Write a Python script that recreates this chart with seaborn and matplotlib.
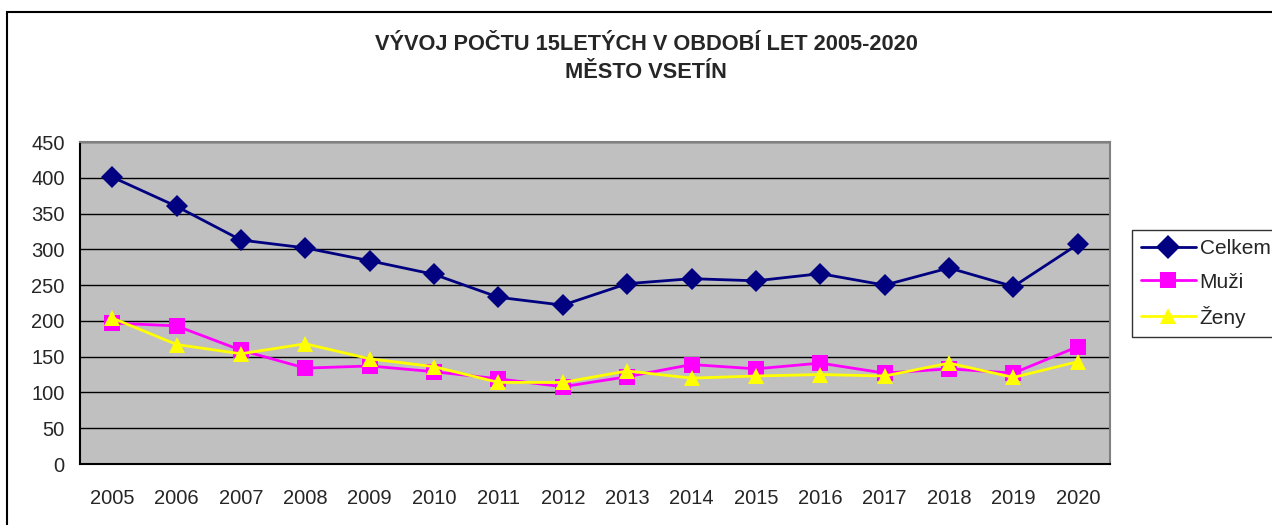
import matplotlib
matplotlib.use("Agg")
import matplotlib.pyplot as plt
from matplotlib.patches import Rectangle
from matplotlib.ticker import FixedLocator, NullFormatter
import seaborn as sns
import pandas as pd

years = ["2005", "2006", "2007", "2008", "2009", "2010", "2011", "2012",
         "2013", "2014", "2015", "2016", "2017", "2018", "2019", "2020"]
celkem = [401, 360, 313, 302, 284, 265, 233, 222, 252, 259, 256, 266, 250, 274, 248, 307]
muzi = [197, 193, 159, 134, 137, 129, 119, 108, 122, 139, 133, 141, 127, 133, 127, 164]
zeny = [204, 167, 154, 168, 147, 136, 114, 114, 130, 120, 123, 125, 123, 141, 121, 143]
series_names = ["Celkem", "Muži", "Ženy"]
title_line1 = "VÝVOJ POČTU 15LETÝCH V OBDOBÍ LET 2005-2020"
title_line2 = "MĚSTO VSETÍN"

sns.set_style("white")
plt.rcParams["font.family"] = ["Liberation Sans", "DejaVu Sans"]

rows = []
for name, vals in zip(series_names, [celkem, muzi, zeny]):
    for i, v in enumerate(vals):
        rows.append({"idx": i, "value": v, "serie": name})
df = pd.DataFrame(rows)

W, H = 1272, 525
fig = plt.figure(figsize=(W / 100, H / 100), dpi=100)
fig.patch.set_facecolor("white")
ax = fig.add_axes([80 / W, 1 - 464 / H, (1110 - 80) / W, (464 - 142) / H])
ax.set_facecolor("#C0C0C0")

palette = {"Celkem": "#000080", "Muži": "#FF00FF", "Ženy": "#FFFF00"}
markers = {"Celkem": "D", "Muži": "s", "Ženy": "^"}
sns.lineplot(data=df, x="idx", y="value", hue="serie", style="serie",
             palette=palette, markers=markers, dashes=False, sort=False,
             linewidth=2, markersize=11, markeredgewidth=0, ax=ax, legend=True)

ax.set_xlim(-0.5, len(years) - 0.5)
ax.set_ylim(0, 450)
ax.set_yticks(range(0, 451, 50))
ax.yaxis.grid(True, color="black", linewidth=1)
ax.set_axisbelow(True)
ax.xaxis.set_major_locator(FixedLocator([i - 0.5 for i in range(len(years) + 1)]))
ax.xaxis.set_major_formatter(NullFormatter())
ax.xaxis.set_minor_locator(FixedLocator(list(range(len(years)))))
ax.set_xticklabels(years, minor=True)
ax.tick_params(axis="x", which="major", direction="out", length=6, width=1, color="black")
ax.tick_params(axis="x", which="minor", length=0, labelsize=14.5, pad=18)
ax.tick_params(axis="y", direction="out", length=6, width=1, color="black", labelsize=14.5, pad=5)
ax.set_xlabel("")
ax.set_ylabel("")
for s in ["left", "bottom"]:
    ax.spines[s].set_color("black")
    ax.spines[s].set_linewidth(1.5)
for s in ["top", "right"]:
    ax.spines[s].set_color("#808080")
    ax.spines[s].set_linewidth(1.5)

handles, labels = ax.get_legend_handles_labels()
ax.get_legend().remove()
leg = ax.legend(handles, labels, loc="upper left",
                bbox_to_anchor=(1132 / W, 1 - 230 / H), bbox_transform=fig.transFigure,
                frameon=True, fancybox=False, edgecolor="black", fontsize=15,
                handlelength=2.6, handletextpad=0.2, borderpad=0.45, labelspacing=0.68,
                borderaxespad=0)
leg.get_frame().set_linewidth(1)
for h in leg.legend_handles:
    h.set_linewidth(2)
    h.set_markersize(12)

fig.text(0.508, 1 - 44 / H, title_line1, ha="center", va="center", fontsize=15.7,
         fontweight="bold")
fig.text(0.508, 1 - 72 / H, title_line2, ha="center", va="center", fontsize=15.7,
         fontweight="bold")

fig.add_artist(Rectangle((7 / W, -0.1), 1.2, 1 - 12 / H + 0.1, transform=fig.transFigure,
                         fill=False, edgecolor="black", linewidth=1.5))

fig.savefig("out.png", dpi=100)
